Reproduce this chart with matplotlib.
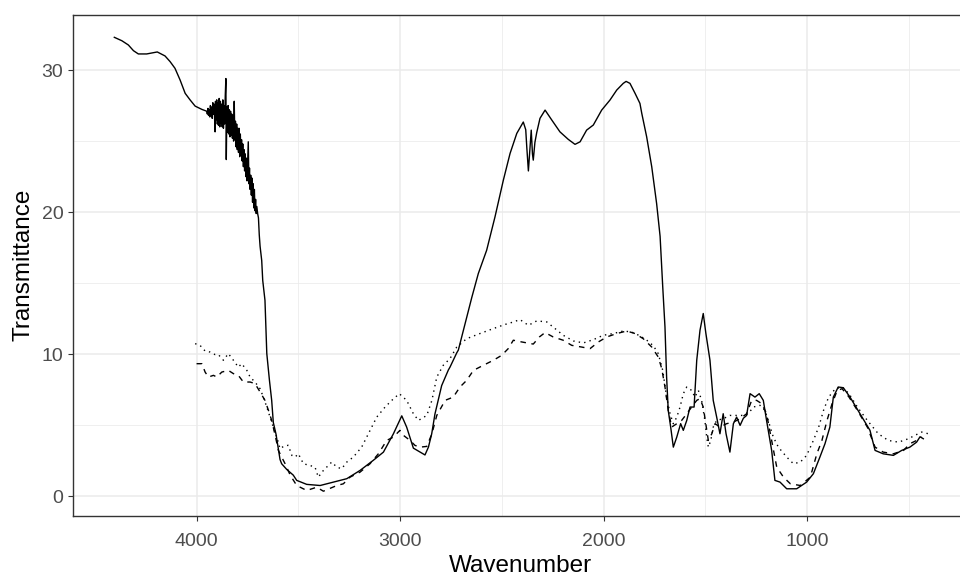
import matplotlib
matplotlib.use('Agg')
import matplotlib.pyplot as plt

# spectra: (wavenumber, transmittance)
wn_solid=[4404,4367,4335,4310,4286,4245,4193,4155,4130,4106,4081,4056,4032,4007,3974,3960,
	3950,3947,3944,3941,3938,3935,3932,3929,3926,3923,3920,3917,3914,3911,3909,3907,3904,3901,3898,3895,3892,3889,3886,3883,3880,3877,3874,3871,3868,3865,3862,3859,3856,3854,3851,3848,3845,3842,3839,3836,3833,3830,3827,3824,3821,3818,3815,3812,3809,3806,3803,3800,3797,3794,3791,3788,3785,3782,3779,3776,3773,3770,3767,3764,3761,3758,3755,3752,3749,3746,3743,3740,3737,3734,3731,3728,3725,3722,3719,3716,3713,3710,3707,3704,3700,3696,3692,3688,
	3680,3675,3664,3655,3642,3631,3623,3610,3598,3590,3582,3557,3525,3508,3459,3393,3328,3262,3197,3132,3082,3033,2992,2968,2935,2902,2878,2861,2845,2829,2796,2763,2755,2722,2714,2681,2648,2616,2575,2534,2493,2460,2427,2395,2383,2378,2370,2362,2356,2350,2346,2338,2329,2313,2288,2255,2215,2174,2141,2116,2084,2051,2010,1969,1936,1904,1890,1871,1846,1822,1813,1789,1764,1740,1723,1710,1699,1691,1683,1671,1658,1641,1622,1609,1592,1576,1556,1543,1527,1511,1498,1478,1462,1445,1429,1413,1399,1380,1363,1347,1330,1314,1298,1281,1257,1236,1216,1200,1175,1159,1134,1101,1052,1003,970,938,913,889,872,848,823,790,741,692,667,627,577,536,496,463,446,430]
tr_solid=[32.3,32.06,31.76,31.36,31.13,31.13,31.27,30.99,30.59,30.12,29.3,28.36,27.9,27.46,27.23,27.15,
	27.1,26.9,27.3,26.8,27.2,26.7,27.5,26.8,27.4,26.6,27.7,26.9,27.6,26.4,25.65,27.8,26.5,27.9,26.2,27.7,26.1,28.0,26.0,27.8,26.3,27.6,26.0,27.9,25.9,27.5,26.2,28.2,29.4,23.7,27.4,25.6,27.5,25.5,27.2,25.3,27.1,25.4,26.9,25.2,26.8,25.0,27.8,25.1,26.4,24.6,26.2,24.4,25.9,24.2,25.9,23.9,25.5,24.0,25.1,23.6,24.8,23.2,24.4,22.9,24.1,22.5,23.8,22.2,23.6,24.95,22.0,23.1,21.6,22.6,21.2,22.4,20.7,22.0,20.3,21.6,20.1,20.9,19.9,20.4,19.9,19.6,18.4,17.6,
	16.6,15.2,13.8,10.05,8.17,6.76,5.2,4.4,3.3,2.6,2.3,1.9,1.5,1.13,0.85,0.77,1.01,1.25,1.83,2.54,3.12,4.41,5.67,4.88,3.4,3.12,2.92,3.47,4.4,5.8,7.8,8.9,9.1,10.1,10.3,12.16,14.0,15.68,17.32,19.67,22.25,24.13,25.54,26.34,25.8,24.6,22.9,24.5,25.77,24.1,23.66,24.9,25.6,26.6,27.18,26.48,25.65,25.12,24.77,24.95,25.77,26.13,27.18,27.89,28.59,29.06,29.2,29.06,28.36,27.65,26.95,25.3,23.19,20.6,18.3,14.74,11.92,8.4,6.06,4.88,3.47,4.18,5.12,4.65,5.35,6.29,6.29,9.58,11.69,12.87,11.46,9.58,6.76,5.58,4.41,5.82,4.41,3.12,5.12,5.58,5.0,5.5,5.7,7.23,6.99,7.23,6.76,5.35,3.24,1.13,1.01,0.54,0.54,1.01,1.6,2.77,3.71,4.88,6.99,7.7,7.65,6.99,5.82,4.65,3.24,3.0,2.89,3.24,3.47,3.82,4.2,4.06]

wn_dash=[4000,3974,3958,3942,3917,3901,3876,3844,3819,3795,3770,3737,3713,3688,3664,3647,3631,3614,3598,3582,3565,3540,3508,3459,3410,3377,3311,3279,3246,3197,3148,3107,3066,3033,3001,2984,2951,2927,2902,2869,2844,2820,2779,2739,2706,2673,2640,2591,2542,2501,2469,2444,2403,2346,2316,2288,2248,2199,2157,2108,2067,2026,1985,1936,1887,1846,1806,1764,1732,1715,1699,1683,1666,1641,1617,1592,1568,1543,1527,1511,1501,1486,1469,1453,1429,1396,1363,1330,1298,1273,1249,1224,1200,1175,1150,1117,1083,1034,985,953,928,903,878,853,829,795,754,705,667,627,577,527,496,463,438]
tr_dash=[9.34,9.34,8.75,8.4,8.52,8.4,8.75,8.87,8.64,8.52,8.05,8.05,7.94,7.35,6.76,6.06,5.35,4.3,3.24,2.77,2.3,1.5,0.77,0.42,0.65,0.37,0.77,0.89,1.36,1.71,2.3,3.0,3.94,4.18,4.65,4.3,3.94,3.59,3.47,3.52,4.41,5.7,6.76,6.99,7.7,8.17,8.87,9.23,9.58,9.93,10.4,10.99,10.87,10.72,11.22,11.53,11.22,10.99,10.63,10.51,10.4,10.87,11.22,11.46,11.64,11.46,11.1,10.51,9.81,9.0,7.7,6.06,4.88,5.12,5.35,5.82,6.29,6.76,6.88,6.29,5.35,3.94,4.41,5.12,4.88,5.12,5.23,5.47,5.82,6.76,6.76,6.53,5.82,3.94,2.06,1.36,0.89,0.77,1.36,3.0,3.94,5.35,6.53,7.46,7.58,6.99,6.06,4.88,3.47,3.12,3.0,3.24,3.71,3.94,4.18]

wn_dot=[4007,3983,3958,3934,3909,3893,3868,3844,3819,3795,3778,3753,3737,3713,3688,3672,3655,3639,3623,3606,3590,3565,3549,3532,3516,3500,3475,3443,3418,3402,3377,3336,3311,3287,3262,3230,3189,3156,3115,3074,3041,3004,2968,2935,2910,2869,2844,2820,2788,2755,2722,2673,2608,2542,2485,2460,2411,2370,2329,2280,2239,2199,2149,2100,2051,2002,1953,1904,1863,1822,1789,1756,1732,1710,1691,1674,1658,1641,1625,1609,1592,1568,1552,1535,1519,1503,1494,1486,1474,1462,1445,1413,1380,1347,1314,1290,1265,1232,1208,1192,1167,1142,1101,1068,1034,1003,970,944,920,895,862,829,795,754,705,651,602,552,503,471,438,405]
tr_dot=[10.75,10.63,10.23,10.16,9.98,9.98,9.58,10.05,9.58,9.1,9.34,8.87,8.4,8.05,7.58,6.99,6.29,5.58,4.88,4.18,3.36,3.59,3.59,2.89,2.77,3.0,2.3,2.18,2.06,1.36,1.83,2.42,2.06,1.95,2.42,2.77,3.47,4.41,5.58,6.29,6.76,7.23,6.76,5.82,5.35,5.7,6.76,8.4,9.23,9.7,10.51,11.1,11.46,11.81,12.1,12.2,12.44,12.04,12.35,12.28,11.81,11.34,10.94,10.8,11.03,11.34,11.46,11.64,11.57,11.3,11.0,10.6,10.05,8.87,6.99,5.82,5.12,5.58,6.29,7.23,7.7,7.46,6.99,7.46,6.76,5.35,4.18,3.47,3.94,4.88,5.35,5.47,5.7,5.7,5.7,5.82,6.29,6.41,6.06,5.35,4.18,3.47,2.77,2.3,2.42,2.89,3.94,4.88,6.06,6.99,7.58,7.7,7.23,6.29,5.35,4.41,3.94,3.82,4.06,4.3,4.53,4.41]

xticks=[4000,3000,2000,1000]
xminor=[3500,2500,1500,500]
yticks=[0,10,20,30]
yminor=[5,15,25]

plt.rcParams['font.family']=['Liberation Sans','DejaVu Sans']
fig=plt.figure(figsize=(9.6,5.79),dpi=100)
# panel runs a bit past the right edge, like the cropped original
ax=fig.add_axes([73/960,1-515.5/579,895.5/960,500.5/579])

grid='#EBEBEB'
for v in xminor:ax.axvline(v,color=grid,lw=0.55,zorder=0)
for v in yminor:ax.axhline(v,color=grid,lw=0.55,zorder=0)
for v in xticks:ax.axvline(v,color=grid,lw=1.1,zorder=0)
for v in yticks:ax.axhline(v,color=grid,lw=1.1,zorder=0)

ax.plot(wn_solid,tr_solid,color='black',lw=1.0)
ax.plot(wn_dash,tr_dash,color='black',lw=1.0,linestyle=(0,(4,4)))
ax.plot(wn_dot,tr_dot,color='black',lw=1.0,linestyle=(0,(1,3)))

ax.set_xlim(4607,208)
ax.set_ylim(-1.34,33.87)
ax.set_xticks(xticks)
ax.set_yticks(yticks)
ax.tick_params(length=3.5,width=0.8,color='#333333',labelcolor='#4D4D4D',labelsize=14)
ax.tick_params(axis='x',pad=9)
ax.tick_params(axis='y',pad=3.5)
for s in ax.spines.values():
	s.set_color('#333333');s.set_linewidth(1.0)
ax.set_xlabel('Wavenumber',fontsize=17.5,color='black',labelpad=3.5)
ax.set_ylabel('Transmittance',fontsize=17.5,color='black',labelpad=5)

fig.savefig('out.png',dpi=100)
